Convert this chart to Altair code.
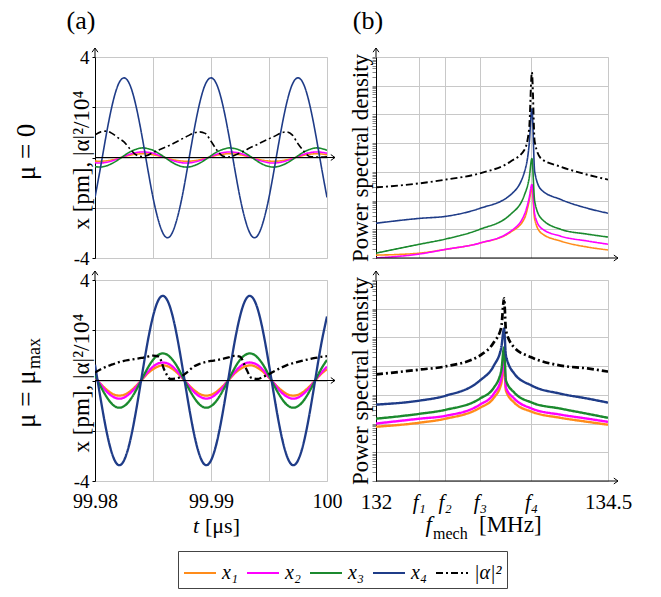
import altair as alt
import pandas as pd

FONT = "'Liberation Serif', 'Times New Roman', serif"
GRID = "#c8c8c8"
W, H = 232, 201

SERIES = ["x₁", "x₂", "x₃", "x₄", "|α|²"]
COLORS = ["#ff8c1a", "#ff00ff", "#1b8a2e", "#1f3c88", "#000000"]
DASHES = [[1, 0], [1, 0], [1, 0], [1, 0], [7, 3, 2, 3]]

# ---- time axis (μs), 41 samples 0.0005 apart
TIME = [round(99.98 + 0.0005 * i, 4) for i in range(41)]

# ---- panel (a), mu = 0
X1_TOP = [-0.14, -0.15, -0.13, -0.09, -0.03, 0.03, 0.09, 0.13, 0.15, 0.14, 0.11, 0.06, 0.00, -0.06, -0.11,
          -0.14, -0.15, -0.13, -0.09, -0.03, 0.03, 0.09, 0.13, 0.15, 0.14, 0.11, 0.06, 0.00, -0.06, -0.11,
          -0.14, -0.15, -0.13, -0.09, -0.03, 0.03, 0.09, 0.13, 0.15, 0.14, 0.11]
X2_TOP = [-0.21, -0.22, -0.19, -0.13, -0.05, 0.04, 0.13, 0.19, 0.22, 0.21, 0.17, 0.09, 0.00, -0.09, -0.16,
          -0.21, -0.22, -0.19, -0.13, -0.05, 0.04, 0.13, 0.19, 0.22, 0.21, 0.17, 0.09, 0.00, -0.09, -0.16,
          -0.21, -0.22, -0.19, -0.13, -0.05, 0.04, 0.13, 0.19, 0.22, 0.21, 0.17]
X3_TOP = [-0.36, -0.38, -0.33, -0.23, -0.09, 0.07, 0.22, 0.32, 0.38, 0.36, 0.29, 0.16, 0.01, -0.15, -0.28,
          -0.36, -0.38, -0.33, -0.23, -0.09, 0.07, 0.22, 0.32, 0.38, 0.36, 0.29, 0.16, 0.01, -0.15, -0.28,
          -0.36, -0.38, -0.33, -0.23, -0.09, 0.07, 0.22, 0.32, 0.38, 0.36, 0.29]
X4_TOP = [-1.59, -0.33, 0.98, 2.12, 2.90, 3.17, 2.90, 2.12, 0.98, -0.33, -1.59, -2.56, -3.12, -3.12, -2.56,
          -1.59, -0.33, 0.98, 2.12, 2.90, 3.17, 2.90, 2.12, 0.98, -0.33, -1.59, -2.56, -3.12, -3.12, -2.56,
          -1.59, -0.33, 0.98, 2.12, 2.90, 3.17, 2.90, 2.12, 0.98, -0.33, -1.59]
A_TOP = [0.90, 1.02, 1.05, 0.95, 0.78, 0.62, 0.35, 0.12, 0.04, 0.08, 0.20, 0.30, 0.40, 0.50, 0.62,
         0.74, 0.86, 0.97, 1.02, 0.96, 0.65, 0.30, 0.06, 0.02, 0.08, 0.18, 0.30, 0.42, 0.52, 0.64,
         0.75, 0.85, 0.97, 1.02, 0.90, 0.55, 0.25, 0.04, 0.02, 0.02, 0.03]

# ---- panel (a), mu = mu_max
X1_BOT = [0.11, -0.14, -0.36, -0.53, -0.60, -0.57, -0.44, -0.23, 0.01, 0.26, 0.45, 0.57, 0.60, 0.51, 0.34,
          0.11, -0.14, -0.36, -0.53, -0.60, -0.57, -0.44, -0.23, 0.01, 0.26, 0.45, 0.57, 0.60, 0.51, 0.34,
          0.11, -0.14, -0.36, -0.53, -0.60, -0.57, -0.44, -0.23, 0.01, 0.26, 0.45]
X2_BOT = [0.13, -0.16, -0.44, -0.63, -0.72, -0.68, -0.52, -0.28, 0.02, 0.31, 0.55, 0.69, 0.71, 0.62, 0.41,
          0.13, -0.16, -0.44, -0.63, -0.72, -0.68, -0.52, -0.28, 0.02, 0.31, 0.55, 0.69, 0.71, 0.62, 0.41,
          0.13, -0.16, -0.44, -0.63, -0.72, -0.68, -0.52, -0.28, 0.02, 0.31, 0.55]
X3_BOT = [0.20, -0.25, -0.65, -0.95, -1.08, -1.02, -0.79, -0.42, 0.02, 0.46, 0.82, 1.03, 1.07, 0.92, 0.62,
          0.20, -0.25, -0.65, -0.95, -1.08, -1.02, -0.79, -0.42, 0.02, 0.46, 0.82, 1.03, 1.07, 0.92, 0.62,
          0.20, -0.25, -0.65, -0.95, -1.08, -1.02, -0.79, -0.42, 0.02, 0.46, 0.82]
X4_BOT = [0.63, -0.77, -2.04, -2.95, -3.36, -3.18, -2.46, -1.31, 0.07, 1.44, 2.55, 3.23, 3.34, 2.88, 1.92,
          0.63, -0.77, -2.04, -2.95, -3.36, -3.18, -2.46, -1.31, 0.07, 1.44, 2.55, 3.23, 3.34, 2.88, 1.92,
          0.63, -0.77, -2.04, -2.95, -3.36, -3.18, -2.46, -1.31, 0.07, 1.44, 2.55]
A_BOT = [0.32, 0.45, 0.56, 0.64, 0.72, 0.78, 0.82, 0.86, 0.90, 0.95, 0.99, 0.95, 0.40, 0.06, 0.08,
         0.18, 0.35, 0.55, 0.66, 0.73, 0.78, 0.81, 0.86, 0.92, 0.98, 0.95, 0.50, 0.10, 0.06, 0.15,
         0.25, 0.38, 0.50, 0.60, 0.68, 0.74, 0.80, 0.85, 0.90, 0.94, 0.97]

# ---- panel (b): frequency (MHz) and log10 of power spectral density
F_TICKS = [132.0, 132.46, 132.74, 133.12, 133.67, 134.5]
F_LABELS = ["132", "f₁", "f₂", "f₃", "f₄", "134.5"]

F_TOP = [132.0, 132.47, 132.75, 133.12, 133.45, 133.6, 133.65, 133.68, 133.71, 133.78, 133.99, 134.28, 134.5]
L1_TOP = [0.10, 0.17, 0.30, 0.52, 0.90, 1.38, 1.97, 2.42, 1.35, 0.87, 0.59, 0.38, 0.28]
L2_TOP = [0.00, 0.14, 0.30, 0.52, 0.93, 1.52, 2.08, 2.56, 1.52, 1.04, 0.76, 0.59, 0.48]
L3_TOP = [0.17, 0.48, 0.66, 1.00, 1.52, 2.20, 2.77, 3.46, 1.97, 1.38, 1.00, 0.83, 0.73]
L4_TOP = [1.21, 1.38, 1.45, 1.73, 2.20, 3.00, 3.94, 5.20, 3.00, 2.38, 2.04, 1.73, 1.56]
LA_TOP = [2.46, 2.60, 2.73, 2.95, 3.36, 3.77, 4.50, 6.47, 4.05, 3.46, 3.18, 2.90, 2.73]

F_BOT = [132.0, 132.47, 132.75, 133.12, 133.27, 133.35, 133.38, 133.40, 133.49, 133.68, 133.99, 134.28, 134.5]
L1_BOT = [1.89, 2.03, 2.17, 2.55, 2.90, 3.39, 4.02, 3.15, 2.73, 2.41, 2.20, 2.06, 1.96]
L2_BOT = [2.00, 2.17, 2.27, 2.66, 3.04, 3.57, 4.27, 3.25, 2.87, 2.52, 2.31, 2.17, 2.06]
L3_BOT = [2.17, 2.34, 2.48, 2.87, 3.25, 3.85, 4.65, 3.50, 3.08, 2.73, 2.52, 2.34, 2.20]
L4_BOT = [2.66, 2.80, 2.97, 3.50, 4.02, 4.65, 5.31, 4.37, 3.74, 3.32, 3.04, 2.87, 2.73]
LA_BOT = [3.71, 3.88, 3.99, 4.37, 4.83, 5.35, 6.36, 5.24, 4.65, 4.30, 4.02, 3.92, 3.81]


def long_df(xname, xs, lists, yname, log=False):
    rows = []
    for name, vals in zip(SERIES, lists):
        for x, v in zip(xs, vals):
            rows.append({xname: x, yname: (10 ** v) if log else v, "s": name})
    return pd.DataFrame(rows)


LEG = alt.Legend(orient="none", legendX=83, legendY=494, direction="horizontal", columns=5,
                 title=None, symbolType="stroke", symbolSize=1024, symbolStrokeWidth=2,
                 labelFont=FONT, labelFontSize=20, labelFontStyle="italic", labelColor="black",
                 strokeColor="#444", fillColor="white", padding=5, columnPadding=5, labelOffset=5)
COLOR = alt.Color("s:N", scale=alt.Scale(domain=SERIES, range=COLORS), legend=LEG)
DASH = alt.StrokeDash("s:N", scale=alt.Scale(domain=SERIES, range=DASHES), legend=LEG)

ONE = pd.DataFrame({"k": [0]})


def arrows(at_zero=True):
    layers = []
    if at_zero:
        layers.append(alt.Chart(ONE).mark_rule(color="black", strokeWidth=1).encode(
            x=alt.value(0), x2=alt.value(W + 8), y=alt.datum(0)))
        layers.append(alt.Chart(ONE).mark_point(shape="M-1,-0.7L0,0L-1,0.7", filled=False, stroke="black",
                                                strokeWidth=1, size=70, opacity=1).encode(
            x=alt.value(W + 8), y=alt.datum(0)))
    else:
        layers.append(alt.Chart(ONE).mark_rule(color="black", strokeWidth=1).encode(
            x=alt.value(0), x2=alt.value(W + 10), y=alt.value(H)))
        layers.append(alt.Chart(ONE).mark_point(shape="M-1,-0.7L0,0L-1,0.7", filled=False, stroke="black",
                                                strokeWidth=1, size=70, opacity=1).encode(
            x=alt.value(W + 10), y=alt.value(H)))
    layers.append(alt.Chart(ONE).mark_rule(color="black", strokeWidth=1).encode(
        x=alt.value(0), y=alt.value(0), y2=alt.value(-9)))
    layers.append(alt.Chart(ONE).mark_point(shape="M-0.7,1L0,0L0.7,1", filled=False, stroke="black",
                                            strokeWidth=1, size=70, opacity=1).encode(
        x=alt.value(0), y=alt.value(-9)))
    return layers


def text(t, x, y, size, angle=0, style="normal", align="center", baseline="middle"):
    kw = dict(font=FONT, fontSize=size, text=t, color="black", fontStyle=style, align=align, baseline=baseline)
    if angle:
        kw["angle"] = angle
    return alt.Chart(ONE).mark_text(**kw).encode(x=alt.value(x), y=alt.value(y))


def left_panel(lists, bottom, sw, extras):
    df = long_df("t", TIME, lists, "v")
    xenc = alt.X("t:Q", scale=alt.Scale(domain=[99.98, 100], nice=False, zero=False),
                 axis=alt.Axis(values=[99.98, 99.985, 99.99, 99.995, 100], grid=True, gridColor=GRID,
                               domain=False, ticks=False, labels=bottom, labelFlush=False,
                               labelExpr="format(datum.value, '.3~f') == '99.985' || format(datum.value, '.3~f') == '99.995' ? '' : format(datum.value, '.3~f')",
                               labelFont=FONT, labelFontSize=20, labelColor="black", labelPadding=10,
                               title=None))
    yenc = alt.Y("v:Q", scale=alt.Scale(domain=[-4, 4], nice=False),
                 axis=alt.Axis(values=list(range(-4, 5)), grid=True, gridColor=GRID, domainColor="black",
                               tickColor="black", tickSize=3,
                               labelExpr="datum.value == 4 ? '4' : (datum.value == -4 ? '-4' : '')",
                               labelFont=FONT, labelFontSize=19, labelColor="black", labelPadding=3,
                               title="x [pm],  |α|²/10⁴", titleFont=FONT, titleFontSize=23,
                               titleFontWeight="normal", titleColor="black", titleAngle=270,
                               titleX=-7, titleY=H / 2 + 2, titleAlign="center", titleBaseline="alphabetic"))
    base = alt.Chart(df).encode(x=xenc, y=yenc, color=COLOR, strokeDash=DASH)
    solid = base.transform_filter(alt.datum.s != "|α|²").mark_line(
        clip=True, interpolate="natural", strokeWidth=sw)
    dd = base.transform_filter(alt.datum.s == "|α|²").mark_line(
        clip=True, interpolate="monotone", strokeWidth=sw)
    return alt.layer(solid, dd, *arrows(True), *extras).properties(width=W, height=H)


def right_panel(freqs, lists, bottom, sw, extras):
    df = long_df("f", freqs, lists, "p", log=True)
    lab = "datum.value < 132.2 ? '132' : datum.value < 132.6 ? 'f₁' : datum.value < 132.9 ? 'f₂' : datum.value < 133.4 ? 'f₃' : datum.value < 134 ? 'f₄' : '134.5'"
    xenc = alt.X("f:Q", scale=alt.Scale(domain=[132, 134.5], nice=False, zero=False),
                 axis=alt.Axis(values=F_TICKS, grid=True, gridColor=GRID, domain=False, ticks=False,
                               labels=bottom, labelFlush=False, labelExpr=lab, labelFont=FONT,
                               labelFontStyle={"condition": {"test": "datum.value > 132.2 && datum.value < 134", "value": "italic"}, "value": "normal"},
                               labelFontSize=21, labelColor="black", labelPadding=10, title=None))
    minor = [m * 10 ** e for e in range(7) for m in range(1, 10)] + [10 ** 7]
    yenc = alt.Y("p:Q", scale=alt.Scale(type="log", domain=[1, 1e7], nice=False),
                 axis=alt.Axis(values=minor, grid=True, gridColor=GRID,
                               gridOpacity={"condition": {"test": "abs(log(datum.value)/LN10 - round(log(datum.value)/LN10)) < 0.001", "value": 1}, "value": 0},
                               labels=False, tickSize=4, tickColor="#888", domainColor="black",
                               title="Power spectral density", titleFont=FONT, titleFontSize=23,
                               titleFontWeight="normal", titleColor="black", titleAngle=270,
                               titleX=-9, titleY=H / 2, titleAlign="center", titleBaseline="alphabetic"))
    base = alt.Chart(df).encode(x=xenc, y=yenc, color=COLOR, strokeDash=DASH)
    solid = base.transform_filter(alt.datum.s != "|α|²").mark_line(
        clip=True, interpolate="monotone", strokeWidth=sw)
    dd = base.transform_filter(alt.datum.s == "|α|²").mark_line(
        clip=True, interpolate="monotone", strokeWidth=sw + 0.3)
    return alt.layer(solid, dd, *arrows(False), *extras).properties(width=W, height=H)


anchor = alt.Chart(ONE).mark_point(size=1, opacity=0).encode(x=alt.value(-94), y=alt.value(-56))

tl = left_panel([X1_TOP, X2_TOP, X3_TOP, X4_TOP, A_TOP], False, 1.6,
                [anchor, text("(a)", -14, -36, 26),
                 text("μ  =  0", -60, 95, 27, angle=270, baseline="alphabetic")])
bl = left_panel([X1_BOT, X2_BOT, X3_BOT, X4_BOT, A_BOT], True, 2.3,
                [text("μ  =  μ", -60, 148, 27, angle=270, align="left", baseline="alphabetic"),
                 text("max", -55, 89, 18, angle=270, align="left", baseline="alphabetic"),
                 text("t", 104, 253, 22, style="italic", align="right", baseline="alphabetic"),
                 text("[μs]", 110, 253, 22, align="left", baseline="alphabetic")])
tr = right_panel(F_TOP, [L1_TOP, L2_TOP, L3_TOP, L4_TOP, LA_TOP], False, 1.6,
                 [text("(b)", -8, -36, 26)])
br = right_panel(F_BOT, [L1_BOT, L2_BOT, L3_BOT, L4_BOT, LA_BOT], True, 2.4,
                 [text("f", 56, 252, 23, style="italic", align="right", baseline="alphabetic"),
                  text("mech", 57, 259, 16, align="left", baseline="alphabetic"),
                  text("[MHz]", 103, 252, 23, align="left", baseline="alphabetic")])

chart = alt.concat(tl, tr, bl, br, columns=2, spacing={"row": 22, "column": 49}, bounds="flush").resolve_scale(
    color="shared", strokeDash="shared"
).properties(padding=0).configure_view(stroke=None).configure(
    background="white", font=FONT).configure_legend(
    labelFont=FONT, labelFontStyle="italic", labelFontSize=20).configure_axis(
    labelFont=FONT, titleFont=FONT)

chart.save("out.html", embed_options={"renderer": "svg", "actions": False})
